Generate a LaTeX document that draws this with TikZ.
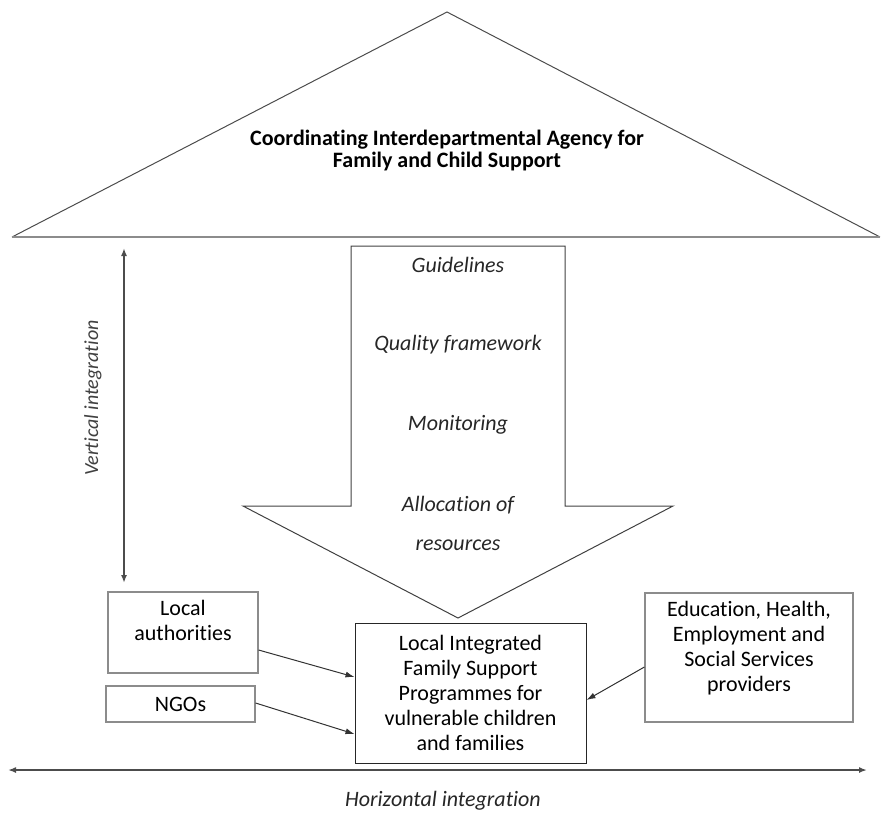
\documentclass[tikz,border=0pt]{standalone}
\usepackage{fontspec}
\setmainfont{Carlito}[Ligatures=NoCommon]
\usetikzlibrary{arrows.meta,positioning}
\begin{document}
\begin{tikzpicture}[x=1pt,y=-1pt,
    txt/.style={font=\fontsize{22}{24.8}\selectfont,align=center,inner sep=0pt},
    flow/.style={txt,font=\fontsize{22}{24.8}\selectfont\itshape,text=black!85},
    greybox/.style={draw=black!45,line width=1.2pt},
    blackbox/.style={draw=black!85,line width=1pt},
    link/.style={-{Latex[length=9pt,width=6pt]},black!80,line width=1pt},
    integ/.style={{Latex[length=8pt,width=6pt]}-{Latex[length=8pt,width=6pt]},black!70,line width=1.6pt}]
  \useasboundingbox (0,0) rectangle (885,812);

  % agency roof
  \coordinate (apex) at (447,12);
  \coordinate (baseL) at (12,237);
  \coordinate (baseR) at (880,237);
  \draw[black!70,line width=1pt] (baseL) -- (apex) -- (baseR);
  \draw[black!45,line width=1.6pt] (baseL) -- (baseR);
  \node[txt,font=\fontsize{22}{22}\selectfont\bfseries] (agency) at (447,151)
    {Coordinating Interdepartmental Agency for\\Family and Child Support};

  % big arrow
  \draw[black!75,line width=1pt] (351,246) -- (565,246) -- (565,506) -- (673,506)
    -- (458,618) -- (243,506) -- (351,506) -- cycle;
  \node[flow] (guide) at (458,265) {Guidelines};
  \node[flow] (quality) at (458,345) {Quality framework};
  \node[flow] (monitor) at (458,425) {Monitoring};
  \node[flow] (alloc) at (458,505) {Allocation of};
  \node[flow] (resource) at (458,545) {resources};

  % boxes
  \node[greybox,minimum width=150,minimum height=81] (la) at (183,632.5) {};
  \node[txt,below=9pt of la.north] (latext) {Local\\authorities};
  \node[greybox,minimum width=149,minimum height=36,txt] (ngo) at (180.5,704) {NGOs};
  \node[blackbox,minimum width=231,minimum height=140,txt] (lif) at (470.5,693)
    {Local Integrated\\Family Support\\Programmes for\\vulnerable children\\and families};
  \node[greybox,minimum width=208,minimum height=129] (edu) at (749,657.5) {};
  \node[txt,below=9pt of edu.north] (edutext)
    {Education, Health,\\Employment and\\Social Services\\providers};

  \draw[link] ([yshift=-17.5pt]la.east) -- ([yshift=16pt]lif.west);
  \draw[link] ([yshift=1pt]ngo.east) -- ([yshift=-41pt]lif.west);
  \draw[link] ([yshift=-9.5pt]edu.west) -- ([yshift=-7pt]lif.east);

  % integration axes
  \coordinate (vtop) at (124,248);
  \coordinate (vbot) at (124,583);
  \draw[integ] (vtop) -- (vbot);
  \node[txt,font=\fontsize{20}{20}\selectfont\itshape,text=black!75,rotate=90] (vlabel) at (93,398)
    {Vertical integration};
  \coordinate (hleft) at (8,770);
  \coordinate (hright) at (867,770);
  \draw[integ] (hleft) -- (hright);
  \node[flow] (hlabel) at (443,801) {Horizontal integration};
\end{tikzpicture}
\end{document}
